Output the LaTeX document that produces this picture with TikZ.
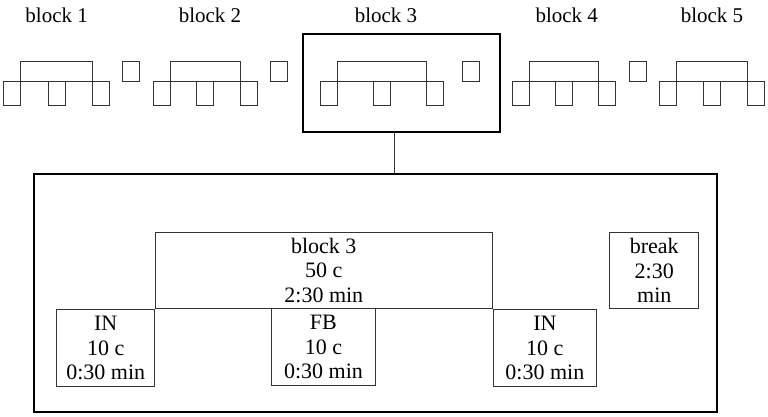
\documentclass[tikz,border=0pt]{standalone}
\usepackage{fontspec}
\setmainfont{Liberation Serif}
\usepackage{tikz}
\newcommand{\miniblk}[2]{% #1: frame left, #2: frame right
	\draw[thinline] (#1,61) rectangle (#2,81);
	\draw[thinline] (#1-17,81) rectangle (#1,105);
	\draw[thinline] ({(#1+#2)/2-8.5},81) rectangle ({(#1+#2)/2+8.5},105);
	\draw[thinline] (#2,81) rectangle (#2+17,105);
}
\newcommand{\pausesq}[1]{\draw[thinline] (#1,61) rectangle (#1+17,81);}

\begin{document}
\begin{tikzpicture}[x=1pt,y=-1pt,
	thinline/.style={line width=0.9pt,draw=black!80},
	thickline/.style={line width=1.8pt,draw=black},
	toplabel/.style={anchor=base,font=\fontsize{21}{24}\selectfont},
	seg/.style={thinline,draw,inner sep=0pt,align=center,font=\fontsize{22}{24.5}\selectfont}]
	\useasboundingbox (0,0) rectangle (768,416);

	% Labels of the blocks
	\node[toplabel] (l1) at (56.7,22.5) {block 1};
	\node[toplabel] (l2) at (210,22.5) {block 2};
	\node[toplabel] (l3) at (386,22.5) {block 3};
	\node[toplabel] (l4) at (566.7,22.5) {block 4};
	\node[toplabel] (l5) at (712,22.5) {block 5};

	% Selected block
	\node[thickline,draw,minimum width=197.3pt,minimum height=98.3pt,anchor=north west] (sel) at (301.7,32.7) {};

	% Mini blocks with pauses
	\miniblk{20.7}{92.3}
	\pausesq{122.3}
	\miniblk{170}{240}
	\pausesq{270}
	\miniblk{337.3}{426.7}
	\pausesq{462.3}
	\miniblk{529.3}{598.7}
	\pausesq{629}
	\miniblk{676}{747}

	% Detail of block 3
	\node[thickline,draw,minimum width=683.3pt,minimum height=238pt,anchor=north west] (detail) at (32.7,172.7) {};
	\coordinate (c) at (394.3,0);
	\draw[thinline] (c |- sel.south) -- (c |- detail.north);

	\node[seg,minimum width=336.7pt,minimum height=76.6pt,anchor=north west] (blk) at (155,231.7) {block 3\\50 c\\2:30 min};
	\node[seg,minimum width=97.7pt,minimum height=76.7pt,anchor=north east] (in1) at (blk.south west) {IN\\10 c\\0:30 min};
	\node[seg,minimum width=104pt,minimum height=76.7pt,anchor=north west] (fb) at (271,308.3) {FB\\10 c\\0:30 min};
	\node[seg,minimum width=103.6pt,minimum height=76.7pt,anchor=north west] (in2) at (blk.south east) {IN\\10 c\\0:30 min};
	\node[seg,minimum width=89pt,minimum height=76.6pt,anchor=north west] (brk) at (609.3,231.7) {break\\2:30\\min};
\end{tikzpicture}
\end{document}
